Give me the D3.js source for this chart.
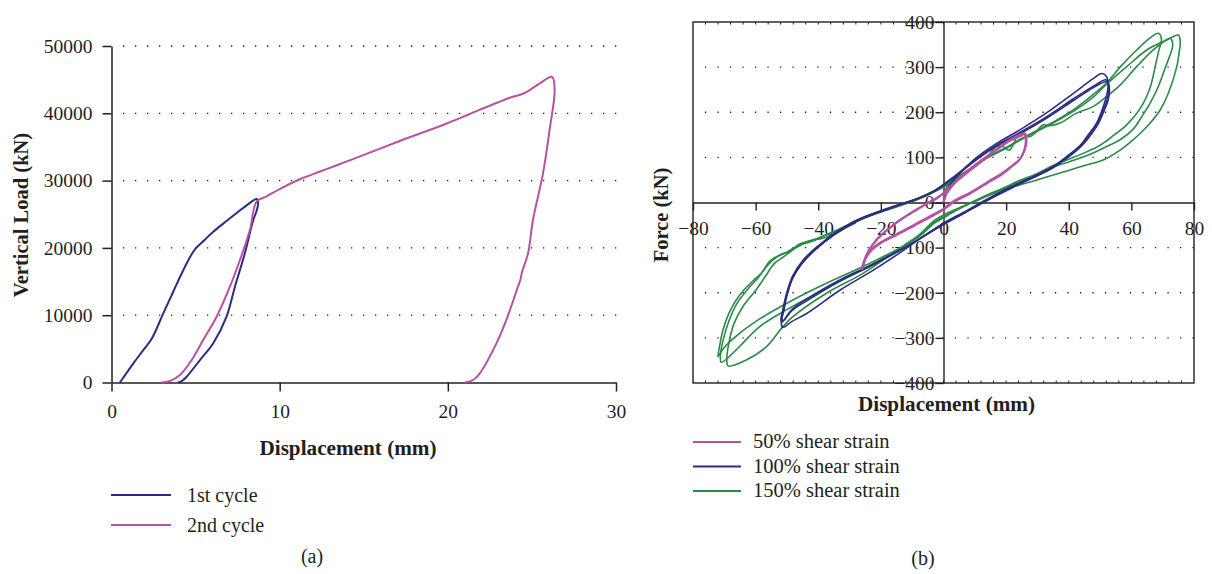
<!DOCTYPE html>
<html><head><meta charset="utf-8">
<script src="https://cdn.jsdelivr.net/npm/d3@7"></script>
<style>
body{margin:0;background:#fff}
svg{display:block}
text{font-family:"Liberation Serif","Times New Roman",serif;fill:#231f20}
</style>
</head><body>
<svg id="c" width="1212" height="574"></svg>
<script>
// ---------- DATA (a): vertical load vs displacement ----------
const leftXTicks = [0, 10, 20, 30];
const leftYTicks = [0, 10000, 20000, 30000, 40000, 50000];
const leftSeriesNames = ["1st cycle", "2nd cycle"];
const cycle1 = [[0.5,0],[1.3,2850],[1.9,4850],[2.4,6550],[3.08,10280],[3.67,13490],[4.37,17210],[4.96,19790],[5.5,21100],[6.05,22400],[6.84,24000],[7.5,25300],[8.0,26250],[8.63,27270],
  [8.72,26600],[8.6,25300],[8.43,24140],[7.93,19200],[7.34,14240],[6.84,9780],[6.05,5820],[5.26,3340],[4.47,860],[4.17,200],[3.95,0]];
const cycle2 = [[2.94,0],[3.48,220],[4.07,1110],[4.77,3340],[5.45,6320],[6.25,9780],[7.04,14240],[7.64,18200],[8.23,22660],[8.63,26870],[9.22,27650],[10,28750],[11.2,30200],[12.4,31350],[13.2,32100],[15.2,34000],[17.1,35850],[19.9,38450],[21.3,39900],[23.0,41650],[23.9,42500],[24.3,42750],[24.8,43350],[25.5,44500],[26.2,45400],
  [26.35,43460],[26.05,37520],[25.66,31080],[25.06,24140],[24.77,19200],[24.4,16300],[24.32,15300],[24.17,14240],[23.48,9290],[22.89,5820],[21.9,1370],[21.5,370],[21.0,0]];

// ---------- DATA (b): force vs displacement ----------
const rightXTicks = [-80, -60, -40, -20, 0, 20, 40, 60, 80];
const rightYTicks = [-400, -300, -200, -100, 0, 100, 200, 300, 400];
const rightSeriesNames = ["50% shear strain", "100% shear strain", "150% shear strain"];
const strain50 = [
 [[0,0],[1,20],[3,38],[6,60],[10,83],[14,103],[18,122],[21,138],[24,149],[26,153],[26.5,138],[26,118],[24.4,96],[22,82],[19,66],[14,45],[8.5,22],[3,2],[0,-14],[-5,-33],[-10,-52],[-15,-70],[-20,-88],[-23,-104],[-25,-125],[-26,-148],[-25.5,-132],[-24,-108],[-21.5,-84],[-17.5,-58],[-13.9,-39],[-9,-18],[-5.4,-3],[-2,10],[0,20],[3,40],[7,63],[13.8,100],[21,136],[25,150],[26,153]],
 [[26,153],[26.3,136],[25.8,116],[24.3,95],[22,81],[19,64],[14,43],[8.5,20],[3,0],[0,-16],[-5,-35],[-10,-54],[-15,-72],[-20,-90],[-23,-106],[-25,-126],[-25.8,-145],[-25.2,-130],[-23.8,-106],[-21.3,-82],[-17.3,-57],[-13.7,-38],[-9,-17],[-5.2,-2],[-2,11],[0,21],[3,41],[7,64],[13.8,101],[21,137],[25.3,149]]
];
const strain100 = [
 [[0,0],[0.8,18],[1.5,32],[3,48],[6,70],[10.6,100],[17,131],[24.4,161],[33,199],[41.5,242],[47.9,275],[50.5,286],[52,280],[52.6,262],[52.2,240],[51,212],[48.9,176],[46,148],[43.6,126],[39,100],[35,80],[30,62],[24.4,44],[19,26],[13.8,7],[6.3,-22],[0,-46],[-7.5,-80],[-12.8,-106],[-22.4,-150],[-33,-194],[-43.7,-246],[-48.5,-264],[-51.3,-277],[-51.8,-268],[-51.4,-248],[-50.3,-212],[-48.5,-172],[-45.5,-138],[-41,-105],[-35,-72],[-27.7,-42],[-17.1,-13],[-8.6,8],[-3,26],[0,40]],
 [[0,40],[3.1,56],[10.6,97],[17,127],[24.4,155],[33,190],[41.5,230],[47.9,258],[51.8,272],[52.4,266],[52.8,250],[52.3,228],[51,205],[49,175],[46,145],[43.6,124],[39,98],[35,78],[30,60],[24.4,42],[19,24],[13.8,5],[6.3,-24],[0,-48],[-7.5,-80],[-12.8,-102],[-22.4,-138],[-33,-174],[-43.7,-218],[-48.5,-240],[-51.2,-262],[-51.6,-258],[-51,-240],[-50.1,-209],[-48,-165],[-44.5,-128],[-40,-98],[-35,-70],[-27.7,-40],[-17.1,-12],[-8.6,7],[-3,24],[0,38]],
 [[0,38],[3.1,54],[10.6,95],[17,125],[24.4,152],[33,187],[41.5,226],[47.9,255],[52.2,268],[52.8,262],[53,246],[52.5,225],[51.2,202],[49.3,173],[46.3,143],[43.6,122],[39,96],[35,77],[24.4,41],[13.8,4],[6.3,-25],[0,-49],[-12.8,-101],[-22.4,-136],[-33,-171],[-43.7,-214],[-48.5,-238],[-51.6,-265],[-51.9,-258],[-51.3,-238],[-50.3,-206],[-48.2,-163],[-44.6,-126],[-40,-96],[-35,-69],[-27.7,-39],[-17.1,-11],[-8.6,8]]
];
const strain150 = [
 [[0,0],[0.5,25],[1.8,42],[4,55],[8.5,75],[13.8,100],[20,122],[24.4,140],[30,160],[36,182],[42,208],[47.9,240],[52.1,265],[56.4,300],[61.7,338],[65.5,362],[68.6,375],[69.6,362],[68.7,335],[67.6,301],[66,255],[62.8,208],[58.5,172],[54.2,148],[50,127],[45,110],[40,96],[35,82],[29.8,64],[24,48],[19.1,32],[13,14],[8.5,-1],[4,-16],[1,-28],[-3,-44],[-7.5,-72],[-12.8,-96],[-25.7,-142],[-37.4,-179],[-48.1,-216],[-58.7,-258],[-66.2,-296],[-70.5,-325],[-72,-342],[-71.5,-318],[-70.4,-282],[-68.3,-242],[-65.1,-205],[-60.9,-174],[-58,-155],[-55.5,-130],[-52.3,-116],[-49.1,-108],[-45.9,-92],[-39.6,-78],[-32.1,-55],[-28,-40],[-22,-25],[-12,-1],[-5.4,17],[0,36]],
 [[0,36],[4,52],[8.5,72],[13.8,98],[20,120],[24.4,138],[30,158],[36,180],[42,204],[47.9,234],[52.1,262],[58.5,301],[64.9,338],[70.2,357],[72.4,364],[73.2,348],[72,320],[70.8,298],[68.6,257],[66,220],[63.3,190],[60.5,162],[56.4,139],[52.1,124],[45.8,104],[40,90],[35.1,79],[29.8,60],[24,45],[19.1,30],[13,12],[8.5,-2],[4,-18],[1,-30],[-3,-46],[-7.5,-74],[-12.8,-98],[-25.7,-148],[-37.4,-190],[-50.2,-238],[-58.7,-275],[-65,-318],[-69,-345],[-71,-354],[-71.2,-335],[-70.2,-300],[-68.5,-262],[-65.8,-222],[-62,-188],[-59,-165],[-56,-138],[-53,-120],[-50,-110],[-46.5,-96],[-42,-86],[-39,-76],[-32.1,-57],[-28,-42],[-22,-26],[-12,-3],[-5.4,15],[0,34]],
 [[0,34],[3.1,46],[8.5,72],[13.8,101],[17,124],[19,124],[21,116],[24.4,153],[27.6,146],[31.9,172],[34,170],[37.2,176],[42.5,198],[47.9,213],[52.1,235],[56.4,260],[61.7,301],[67,338],[71.3,360],[75,371],[75.6,355],[75.2,330],[74.5,301],[71.8,242],[69.2,205],[66,176],[62.8,153],[59,130],[56.4,116],[51,94],[45,82],[40.4,72],[29.8,50],[19.1,28],[8.5,-2],[1,-24],[-3,-40],[-7.5,-70],[-12.8,-96],[-25.7,-157],[-37.4,-201],[-48.1,-253],[-51.3,-275],[-56.6,-320],[-63,-349],[-68.8,-362],[-69.2,-345],[-68.5,-310],[-67,-270],[-64,-230],[-60,-195],[-57,-165],[-54,-135],[-51,-120],[-47,-100],[-43,-86],[-38,-78],[-33,-62],[-28,-45]]
];

// ---------- STYLE ----------
const PINK = "#b652a6", NAVY = "#2c2c80", GREEN = "#2b8a47", INK = "#231f20";
const svg = d3.select("#c");

// ================= CHART (a) =================
const xA = d3.scaleLinear().domain([0, 30]).range([111.5, 616]);
const yA = d3.scaleLinear().domain([0, 50000]).range([382.5, 46]);
const gA = svg.append("g");

gA.selectAll("line.grid").data(leftYTicks.filter(d => d > 0)).join("line")
  .attr("x1", xA(0) + 11.5).attr("x2", xA(30) + 2)
  .attr("y1", d => yA(d)).attr("y2", d => yA(d))
  .attr("stroke", INK).attr("stroke-width", 1.3).attr("stroke-dasharray", "1.3,10.7");

const axA_x = gA.append("g").attr("transform", `translate(0,${yA(0)})`)
  .call(d3.axisBottom(xA).tickValues(leftXTicks).tickSize(9).tickSizeOuter(0).tickPadding(13).tickFormat(d3.format("d")));
const axA_y = gA.append("g").attr("transform", `translate(${xA(0)},0)`)
  .call(d3.axisLeft(yA).tickValues(leftYTicks).tickSize(9).tickSizeOuter(0).tickPadding(10).tickFormat(d3.format("d")));
[axA_x, axA_y].forEach(a => {
  a.selectAll("path,line").attr("stroke", INK).attr("stroke-width", 1.5);
  a.selectAll("text").attr("font-size", 19.5).attr("fill", INK).style("font-family", '"Liberation Serif",serif');
});

const lineA = d3.line().x(d => xA(d[0])).y(d => yA(d[1])).curve(d3.curveCatmullRom.alpha(0.5));
gA.append("path").datum(cycle1).attr("d", lineA).attr("fill", "none").attr("stroke", NAVY).attr("stroke-width", 2);
gA.append("path").datum(cycle2).attr("d", lineA).attr("fill", "none").attr("stroke", PINK).attr("stroke-width", 2);

gA.append("text").attr("x", 348).attr("y", 455).attr("text-anchor", "middle")
  .attr("font-size", 21.2).attr("font-weight", "bold").text("Displacement (mm)");
gA.append("text").attr("transform", "translate(28,215) rotate(-90)").attr("text-anchor", "middle")
  .attr("font-size", 20.5).attr("font-weight", "bold").text("Vertical Load (kN)");

const legA = gA.append("g");
leftSeriesNames.forEach((n, i) => {
  const y = 495 + i * 30;
  legA.append("line").attr("x1", 111).attr("x2", 171).attr("y1", y).attr("y2", y)
    .attr("stroke", i === 0 ? NAVY : PINK).attr("stroke-width", 2);
  legA.append("text").attr("x", 187).attr("y", y + 7).attr("font-size", 20).text(n);
});
gA.append("text").attr("x", 312).attr("y", 563).attr("text-anchor", "middle").attr("font-size", 20).text("(a)");

// ================= CHART (b) =================
const xB = d3.scaleLinear().domain([-80, 80]).range([693, 1194]);
const yB = d3.scaleLinear().domain([-400, 400]).range([383, 22]);
const gB = svg.append("g");

gB.selectAll("line.grid").data(rightYTicks.filter(d => d !== 0 && Math.abs(d) < 400)).join("line")
  .attr("x1", xB(-80) + 11.9).attr("x2", xB(80))
  .attr("y1", d => yB(d)).attr("y2", d => yB(d))
  .attr("stroke", INK).attr("stroke-width", 1.3).attr("stroke-dasharray", "1.3,11.2");

// frame
gB.append("rect").attr("x", xB(-80)).attr("y", yB(400)).attr("width", xB(80) - xB(-80)).attr("height", yB(-400) - yB(400))
  .attr("fill", "none").attr("stroke", INK).attr("stroke-width", 1.4);
// minor ticks along top and bottom frame
const minor = d3.range(-76, 80, 4);
gB.selectAll("line.mt").data(minor).join("line")
  .attr("x1", d => xB(d)).attr("x2", d => xB(d)).attr("y1", yB(400)).attr("y2", yB(400) + 2.5)
  .attr("stroke", INK).attr("stroke-width", 1);
gB.selectAll("line.mb").data(minor).join("line")
  .attr("x1", d => xB(d)).attr("x2", d => xB(d)).attr("y1", yB(-400)).attr("y2", yB(-400) - 2.5)
  .attr("stroke", INK).attr("stroke-width", 1);

const axB_x = gB.append("g").attr("transform", `translate(0,${yB(0)})`)
  .call(d3.axisBottom(xB).tickValues(rightXTicks).tickSize(8).tickSizeOuter(0).tickPadding(11));
const axB_y = gB.append("g").attr("transform", `translate(${xB(0)},0)`)
  .call(d3.axisLeft(yB).tickValues(rightYTicks).tickSize(8).tickSizeOuter(0).tickPadding(1));
[axB_x, axB_y].forEach(a => {
  a.selectAll("path,line").attr("stroke", INK).attr("stroke-width", 1.4);
  a.selectAll("text").attr("font-size", 19.5).attr("fill", INK).style("font-family", '"Liberation Serif",serif');
});

const lineB = d3.line().x(d => xB(d[0])).y(d => yB(d[1])).curve(d3.curveCatmullRom.alpha(0.5));
const drawSeries = (cycles, color, w) => {
  gB.append("g").selectAll("path").data(cycles).join("path")
    .attr("d", lineB).attr("fill", "none").attr("stroke", color).attr("stroke-width", w)
    .attr("stroke-linejoin", "round");
};
drawSeries(strain150, GREEN, 1.6);
drawSeries(strain100, NAVY, 1.6);
drawSeries(strain50, PINK, 2.1);

gB.append("text").attr("x", 946.5).attr("y", 411).attr("text-anchor", "middle")
  .attr("font-size", 21.2).attr("font-weight", "bold").text("Displacement (mm)");
gB.append("text").attr("transform", "translate(668,215) rotate(-90)").attr("text-anchor", "middle")
  .attr("font-size", 20.5).attr("font-weight", "bold").text("Force (kN)");

const legB = gB.append("g");
[PINK, NAVY, GREEN].forEach((c, i) => {
  const y = 442 + i * 24.5;
  legB.append("line").attr("x1", 693).attr("x2", 741).attr("y1", y).attr("y2", y)
    .attr("stroke", c).attr("stroke-width", 2);
  legB.append("text").attr("x", 753).attr("y", y + 6).attr("font-size", 20.5).text(rightSeriesNames[i]);
});
gB.append("text").attr("x", 923).attr("y", 565).attr("text-anchor", "middle").attr("font-size", 20).text("(b)");
</script>
</body></html>
